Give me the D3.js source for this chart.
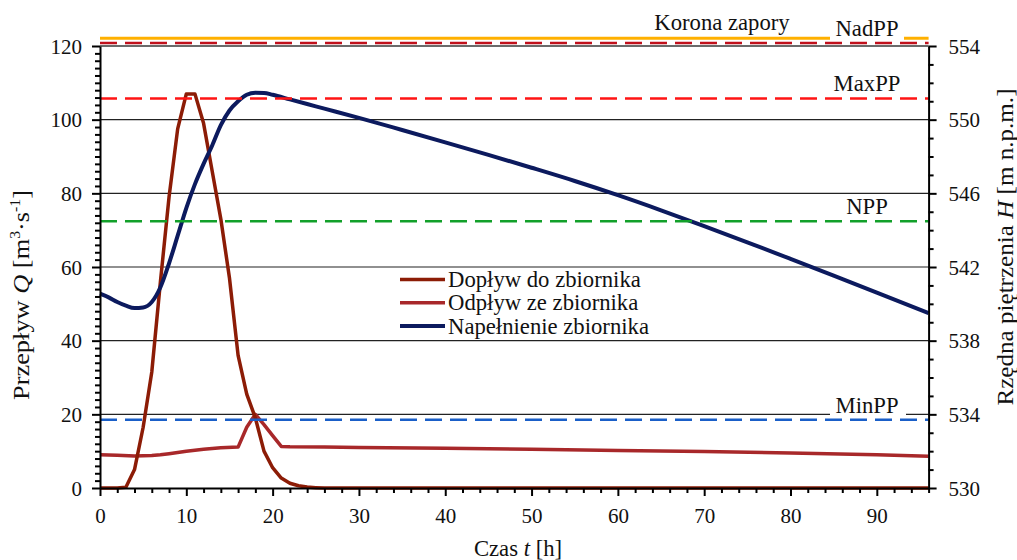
<!DOCTYPE html>
<html>
<head>
<meta charset="utf-8">
<script src="https://cdn.jsdelivr.net/npm/d3@7"></script>
<style>
  html, body { margin: 0; padding: 0; background: #fff; }
  svg { display: block; font-family: "Liberation Serif", "Times New Roman", serif; }
</style>
</head>
<body>
<svg id="chart" width="1017" height="560"></svg>
<script>
// ---------- data ----------
const inflowT = [0,1,2,3,4,5,6,7,8,9,10,11,12,13,14,15,16,17,18,19,20,21,22,23,24,25,26,30,40,50,60,70,80,90,96];
const inflowQ = [0,0,0,0.2,5,16.5,31.5,56,79,97.5,107,107,99,86,73,57,36,25.5,19,10,5.5,2.7,1.3,0.6,0.25,0.1,0,0,0,0,0,0,0,0,0];

const outflowT = [0,2,4,6,7,8,10,12,14,16,17,18,19,20,21,22,26,30,40,50,60,70,80,90,96];
const outflowQ = [9.0,8.9,8.7,8.8,9.0,9.3,10.0,10.5,10.9,11.1,16.5,20,17.2,14.2,11.3,11.2,11.1,11.0,10.8,10.5,10.2,9.9,9.5,9.0,8.6];

const levelT = [0,1,2,3,4,5,6,7,8,9,10,11,12,13,14,15,16,17,18,19,20,22,24,26,30,35,40,45,50,55,60,65,70,75,80,85,90,96];
const levelH = [540.55,540.35,540.1,539.9,539.77,539.8,540.1,540.9,542.2,543.7,545.2,546.5,547.6,548.6,549.7,550.5,551.0,551.35,551.46,551.45,551.35,551.1,550.85,550.6,550.1,549.44,548.77,548.09,547.39,546.67,545.9,545.08,544.22,543.34,542.44,541.53,540.61,539.5];

const seriesNames = ["Dopływ do zbiornika", "Odpływ ze zbiornika", "Napełnienie zbiornika"];

const refNames = ["Korona zapory", "NadPP", "MaxPP", "NPP", "MinPP"];
const refH = [554.42, 554.16, 551.15, 544.48, 533.7];

const xTickLabels = [0,10,20,30,40,50,60,70,80,90];
const qTickLabels = [0,20,40,60,80,100,120];
const hTickLabels = [530,534,538,542,546,550,554];

// ---------- layout ----------
const svg = d3.select("#chart");
const L = 100, R = 928.6, T = 46, B = 488;
const x = d3.scaleLinear().domain([0,96]).range([L,R]);
const yQ = d3.scaleLinear().domain([0,120]).range([B,T]);
const yH = d3.scaleLinear().domain([530,554]).range([B,T]);

const colInflow = "#8c1c06";
const colOutflow = "#a8282a";
const colLevel = "#0c1a5e";
const refStyles = [
  {color:"#ffb000", dash:null, w:3},
  {color:"#c0101c", dash:"17,8", w:2.5},
  {color:"#ff1414", dash:"17,8", w:2.5},
  {color:"#12a02a", dash:"17,8", w:2.5},
  {color:"#1a5fc8", dash:"17,8", w:2.5}
];
const FS = 22.7;

// gridlines
svg.append("g").selectAll("line").data(qTickLabels.filter(d=>d>0)).join("line")
  .attr("x1", L).attr("x2", R)
  .attr("y1", d=>yQ(d)).attr("y2", d=>yQ(d))
  .attr("stroke", d=> d===120 ? "#6a6a6a" : "#222")
  .attr("stroke-width", d=> d===120 ? 2 : 1.1);

// series
const lineQ = (ts, vs) => d3.line().x((d,i)=>x(ts[i])).y(d=>yQ(d))(vs);
const lineH = d3.line().x((d,i)=>x(levelT[i])).y(d=>yH(d)).curve(d3.curveMonotoneX);

svg.append("path").attr("d", lineQ(outflowT, outflowQ))
  .attr("fill","none").attr("stroke",colOutflow).attr("stroke-width",3.5).attr("stroke-linejoin","round");
svg.append("path").attr("d", lineQ(inflowT, inflowQ))
  .attr("fill","none").attr("stroke",colInflow).attr("stroke-width",3.5).attr("stroke-linejoin","round");
svg.append("path").attr("d", lineH(levelH))
  .attr("fill","none").attr("stroke",colLevel).attr("stroke-width",4).attr("stroke-linejoin","round");

// reference level label backgrounds
const labelG = svg.append("g");
[1,2,3,4].forEach(i => {
  const cx = 868, by = yH(refH[i]) - 6;
  labelG.append("rect").attr("x", cx-38).attr("y", by-17).attr("width", 76).attr("height", 20).attr("fill","#fff");
});

// reference lines
refH.forEach((h,i) => {
  const s = refStyles[i];
  const ln = svg.append("line")
    .attr("x1", L).attr("x2", R).attr("y1", yH(h)).attr("y2", yH(h))
    .attr("stroke", s.color).attr("stroke-width", s.w);
  if (s.dash) ln.attr("stroke-dasharray", s.dash);
});
// gap in the crest line for the NadPP label
svg.append("rect").attr("x", 830).attr("y", yH(refH[0])-3).attr("width", 74).attr("height", 5).attr("fill", "#fff");

const textG = svg.append("g").attr("font-size", FS).attr("fill", "#111");
[1,2,3,4].forEach(i => {
  textG.append("text").attr("x", 867).attr("y", yH(refH[i]) - 7)
    .attr("text-anchor","middle").text(refNames[i]);
});
textG.append("text").attr("x", 722).attr("y", 30).attr("text-anchor","middle").text(refNames[0]);

// legend
const lg = svg.append("g");
lg.append("rect").attr("x", 390).attr("y", yQ(60)+1).attr("width", 275).attr("height", yQ(40)-yQ(60)-2).attr("fill","#fff");
const legCols = [colInflow, colOutflow, colLevel];
seriesNames.forEach((n,i) => {
  const yy = 279.5 + i*23.3;
  lg.append("line").attr("x1", 400).attr("x2", 445).attr("y1", yy).attr("y2", yy)
    .attr("stroke", legCols[i]).attr("stroke-width", i===2 ? 4 : 3.5);
  lg.append("text").attr("x", 448).attr("y", yy+7.5).attr("font-size", FS).attr("fill","#111").text(n);
});

// axes
function styleAxis(g, majorSet, majorLen, minorLen, dir) {
  g.select(".domain").attr("stroke","#000").attr("stroke-width",2);
  g.selectAll(".tick line").attr("stroke","#000").attr("stroke-width",2)
    .each(function(d){
      const len = majorSet.includes(d) ? majorLen : minorLen;
      const el = d3.select(this);
      if (dir === "x") el.attr("y2", len);
      else el.attr("x2", dir === "left" ? -len : len);
    });
  g.selectAll(".tick text").attr("font-size", 21).attr("fill","#111")
    .attr("font-family", "Liberation Serif, Times New Roman, serif");
}

const xAxis = d3.axisBottom(x).tickValues(d3.range(0,97,2))
  .tickFormat(d => xTickLabels.includes(d) ? d : "").tickSizeOuter(0).tickPadding(14);
const gx = svg.append("g").attr("transform", `translate(0,${B})`).call(xAxis);
styleAxis(gx, xTickLabels, 8, 5, "x");

const yAxisL = d3.axisLeft(yQ).tickValues(d3.range(0,121,2))
  .tickFormat(d => qTickLabels.includes(d) ? d : "").tickSizeOuter(0).tickPadding(12);
const gl = svg.append("g").attr("transform", `translate(${L},0)`).call(yAxisL);
styleAxis(gl, qTickLabels, 8, 5, "left");
gl.selectAll(".tick text").attr("dy", "0.34em");

const yAxisR = d3.axisRight(yH).tickValues(d3.range(530,555,1))
  .tickFormat(d => hTickLabels.includes(d) ? d : "").tickSizeOuter(0).tickPadding(14);
const gr = svg.append("g").attr("transform", `translate(${R},0)`).call(yAxisR);
styleAxis(gr, hTickLabels, 8, 5, "right");
gr.selectAll(".tick text").attr("dy", "0.34em");

// axis titles
const tx = svg.append("text").attr("x", 518).attr("y", 556).attr("text-anchor","middle")
  .attr("font-size", FS).attr("fill","#111");
tx.append("tspan").text("Czas ");
tx.append("tspan").attr("font-style","italic").text("t");
tx.append("tspan").text(" [h]");

const ly = svg.append("text").attr("transform","translate(29,295) rotate(-90)").attr("text-anchor","middle")
  .attr("font-size", 23.5).attr("fill","#111")
  .attr("textLength", 210).attr("lengthAdjust", "spacingAndGlyphs");
ly.append("tspan").text("Przepływ ");
ly.append("tspan").attr("font-style","italic").text("Q");
ly.append("tspan").text(" [m");
ly.append("tspan").attr("font-size", 14).attr("dy", -9).text("3");
ly.append("tspan").attr("dy", 9).text("·s");
ly.append("tspan").attr("font-size", 14).attr("dy", -9).text("-1");
ly.append("tspan").attr("dy", 9).text("]");

const ry = svg.append("text").attr("transform","translate(1013,247) rotate(-90)").attr("text-anchor","middle")
  .attr("font-size", 23.5).attr("fill","#111")
  .attr("textLength", 317).attr("lengthAdjust", "spacingAndGlyphs");
ry.append("tspan").text("Rzędna piętrzenia ");
ry.append("tspan").attr("font-style","italic").text("H");
ry.append("tspan").text(" [m n.p.m.]");
</script>
</body>
</html>
